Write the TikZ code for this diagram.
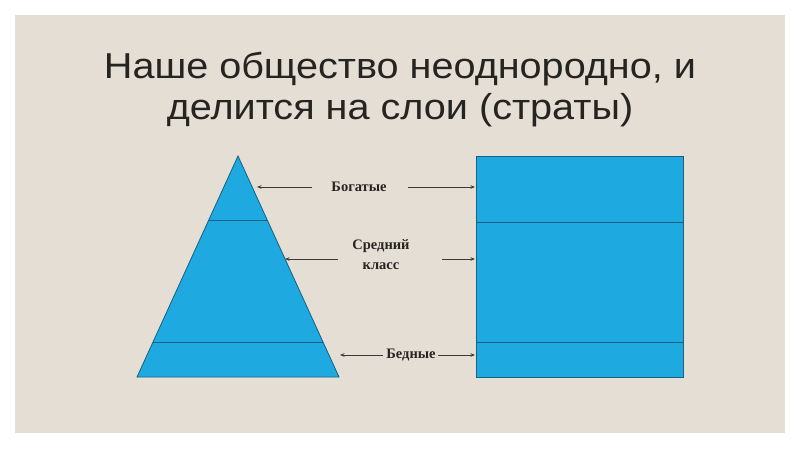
\documentclass[tikz,border=0pt]{standalone}
\usepackage{fontspec}
\setmainfont{Liberation Serif}
\newfontfamily\titlefont[FakeStretch=1.1]{Liberation Sans}
\usetikzlibrary{arrows.meta,calc}
\definecolor{bg}{HTML}{E4DED5}
\definecolor{bluefill}{HTML}{1FA9E1}
\definecolor{blueline}{HTML}{17607F}
\definecolor{txt}{HTML}{262420}
\tikzset{
  shapebox/.style={fill=bluefill, draw=blueline, line width=0.8pt},
  divider/.style={draw=blueline, line width=1pt},
  pointer/.style={draw=txt!90, line width=0.8pt, -{Stealth[length=4.5pt,width=3.5pt]}},
  lbl/.style={font=\bfseries\fontsize{14.5}{20}\selectfont, text=txt, align=center, inner sep=1pt},
  ttl/.style={font=\titlefont\fontsize{36}{41}\selectfont, text=txt, align=center, inner sep=0pt}
}
\begin{document}
\begin{tikzpicture}[x=1pt,y=-1pt]
\useasboundingbox (0,0) rectangle (800,450);
\fill[white] (0,0) rectangle (800,450);
\fill[bg] (15,15) rectangle (785,433);
% title
\node[ttl, anchor=base] (t1) at (400,78) {Наше общество неоднородно, и};
\node[ttl, anchor=base] (t2) at (400,119) {делится на слои (страты)};
% triangle
\coordinate (apex) at (238,156);
\coordinate (bl) at (137,377);
\coordinate (br) at (339,377);
\draw[shapebox] (apex) -- (br) -- (bl) -- cycle;
\draw[divider] ($(apex)!0.294!(bl)$) -- ($(apex)!0.294!(br)$);
\draw[divider] ($(apex)!0.842!(bl)$) -- ($(apex)!0.842!(br)$);
% rectangle
\draw[shapebox] (476,156) rectangle (683,377);
\draw[divider] (476,222) -- (683,222);
\draw[divider] (476,342) -- (683,342);
% labels
\node[lbl] (rich) at (359,187) {Богатые};
\node[lbl] (mid) at (381,255) {Средний\\класс};
\node[lbl] (poor) at (411,355) {Бедные};
% pointers
\coordinate (r0) at (312,187);
\coordinate (r1) at (257,187);
\coordinate (r3) at (408,187);
\coordinate (r2) at (475,187);
\coordinate (m0) at (338,259);
\coordinate (m1) at (285,259);
\coordinate (m3) at (442,259);
\coordinate (m2) at (475,259);
\coordinate (p0) at (383,355);
\coordinate (p1) at (340,355);
\coordinate (p3) at (438,355);
\coordinate (p2) at (475,355);
\draw[pointer] (r0) -- (r1);
\draw[pointer] (r3) -- (r2);
\draw[pointer] (m0) -- (m1);
\draw[pointer] (m3) -- (m2);
\draw[pointer] (p0) -- (p1);
\draw[pointer] (p3) -- (p2);
\end{tikzpicture}
\end{document}
